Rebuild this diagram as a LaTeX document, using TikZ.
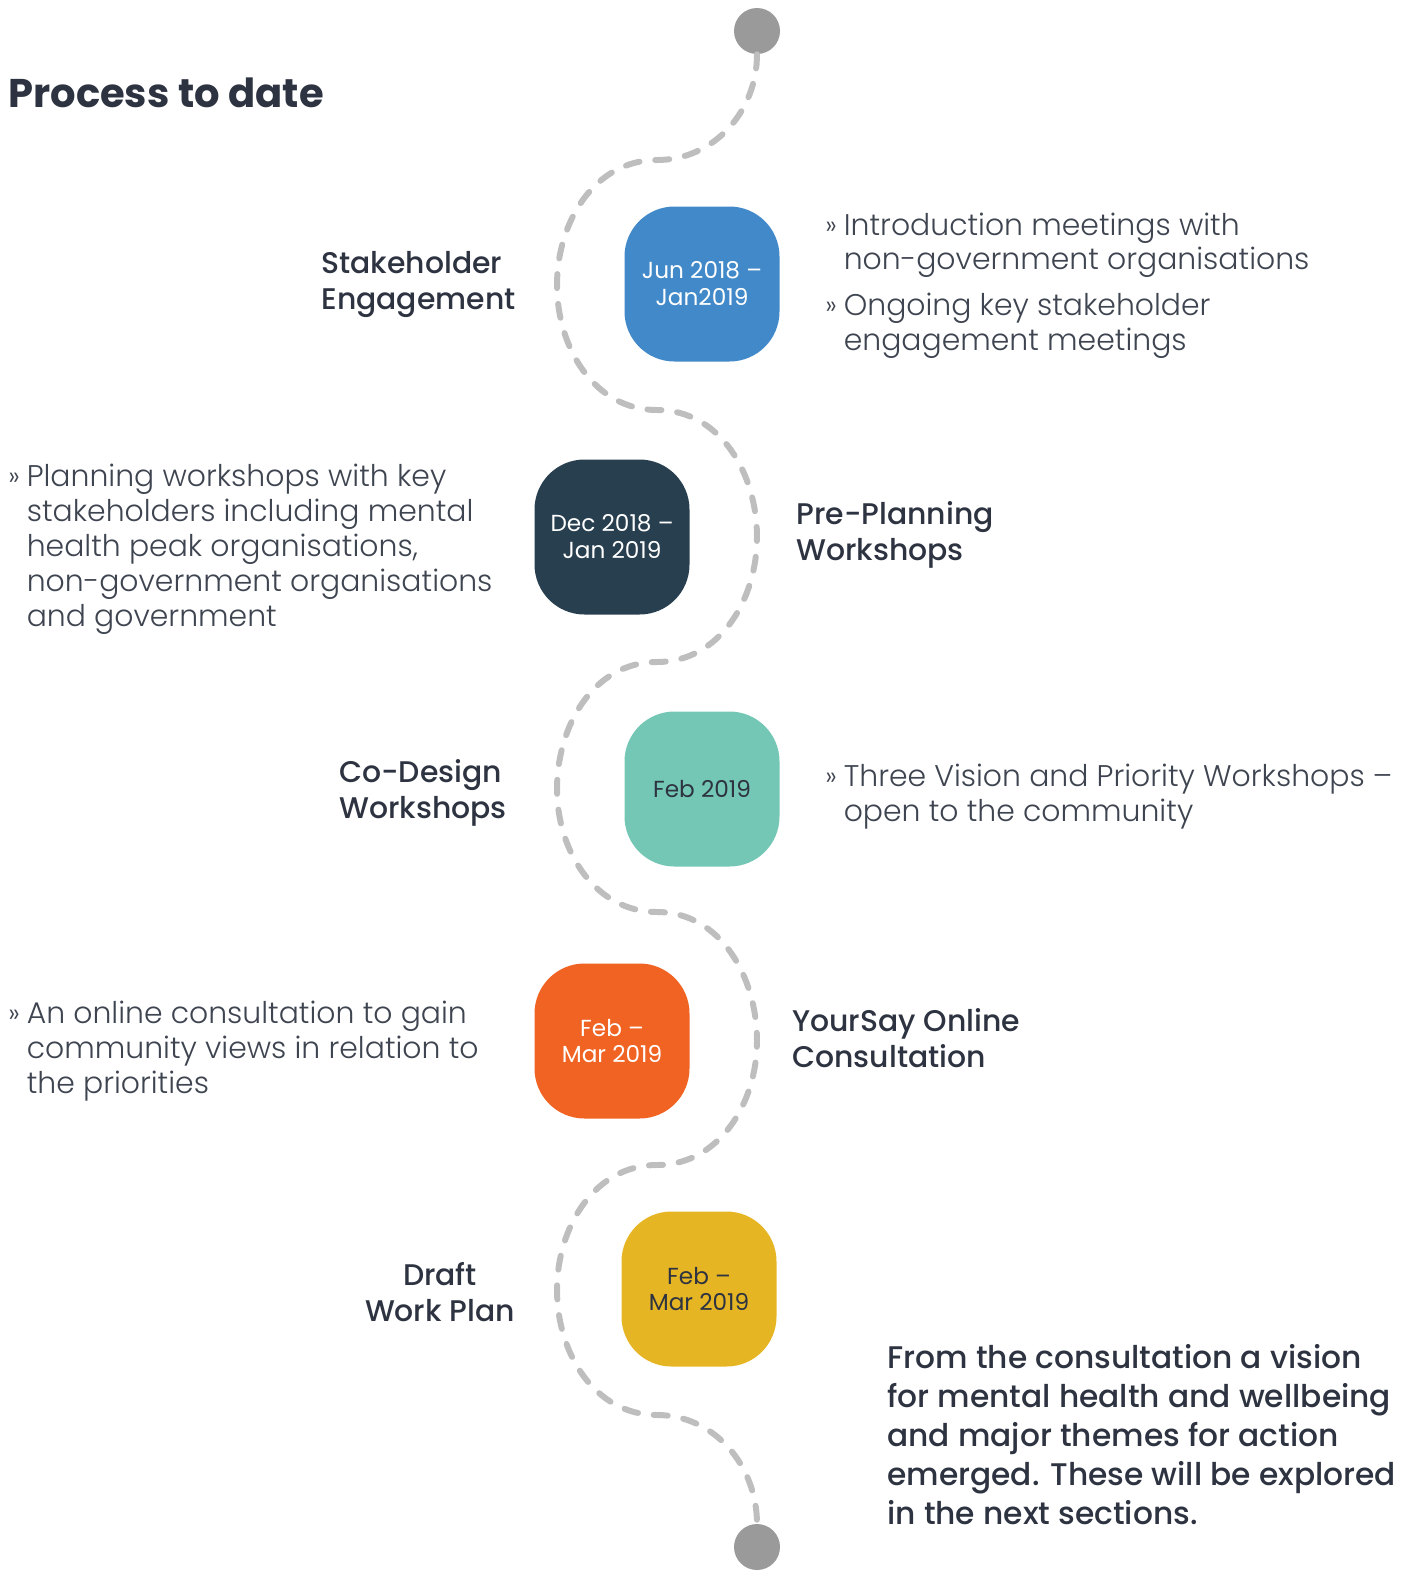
\documentclass[tikz,border=0pt]{standalone}
\usepackage{fontspec}
\setmainfont{Poppins}
\newfontfamily\lightfont{Poppins Light}
\newfontfamily\medfont{Poppins Medium}

\definecolor{inkdark}{RGB}{45,51,64}
\definecolor{inklight}{RGB}{62,68,80}
\definecolor{stepblue}{RGB}{65,137,200}
\definecolor{stepnavy}{RGB}{40,63,80}
\definecolor{stepteal}{RGB}{116,199,181}
\definecolor{steporange}{RGB}{240,99,34}
\definecolor{stepgold}{RGB}{230,181,36}
\definecolor{wavegray}{RGB}{190,190,190}
\definecolor{dotgray}{RGB}{154,154,154}

\newcommand{\bmark}{\makebox[10.5pt][l]{\fontsize{15}{15}\selectfont\raisebox{0.5pt}{»}}}
\newcommand{\bgap}{\hspace*{10.5pt}}

\begin{document}
\begin{tikzpicture}
		[x=0.2mm, y=0.2mm,
		datebox/.style={rectangle, rounded corners=1cm, minimum size=3.1cm,
			inner sep=0pt, align=center, font=\fontsize{13.2}{15.3}\selectfont},
		heading/.style={anchor=base west, inner sep=0pt, align=left, text=inkdark,
			font=\medfont\fontsize{17}{20.4}\selectfont},
		bullets/.style={anchor=base west, inner sep=0pt, align=left, text=inklight,
			font=\lightfont\fontsize{17}{19.8}\selectfont},
		waydot/.style={circle, fill=dotgray, minimum size=0.92cm, inner sep=0pt},
		wave/.style={draw=wavegray, line width=3.4pt, line cap=round,
			dash pattern=on 8pt off 9pt},
		]
		\useasboundingbox (0,0) rectangle (1413,-1575);
		
		\node[anchor=base west, inner sep=0pt, text=inkdark,
			font=\bfseries\fontsize{22.8}{26}\selectfont] (title) at (8,-107) {Process to date};
		
		% the winding path
		\node[waydot] (top) at (757,-31) {};
		\node[waydot] (bottom) at (757,-1547) {};
		\coordinate (c1) at (657,-160);
		\coordinate (l1) at (557,-285);
		\coordinate (c2) at (657,-410);
		\coordinate (r1) at (757,-537);
		\coordinate (c3) at (657,-662);
		\coordinate (l2) at (557,-789);
		\coordinate (c4) at (657,-912);
		\coordinate (r2) at (757,-1041);
		\coordinate (c5) at (657,-1165);
		\coordinate (l3) at (557,-1290);
		\coordinate (c6) at (657,-1415);
		\draw[wave] (top.south) to[out=-90,in=0] (c1) to[out=180,in=90] (l1)
			to[out=-90,in=180] (c2) to[out=0,in=90] (r1)
			to[out=-90,in=0] (c3) to[out=180,in=90] (l2)
			to[out=-90,in=180] (c4) to[out=0,in=90] (r2)
			to[out=-90,in=0] (c5) to[out=180,in=90] (l3)
			to[out=-90,in=180] (c6) to[out=0,in=90] (bottom.north);
		
		% date boxes
		\node[datebox, fill=stepblue, text=white] (A) at (702,-284) {Jun 2018 –\\Jan2019};
		\node[datebox, fill=stepnavy, text=white] (B) at (612,-537) {Dec 2018 –\\Jan 2019};
		\node[datebox, fill=stepteal, text=inkdark] (C) at (702,-789) {Feb 2019};
		\node[datebox, fill=steporange, text=white] (D) at (612,-1041) {Feb –\\Mar 2019};
		\node[datebox, fill=stepgold, text=inkdark] (E) at (699,-1289) {Feb –\\Mar 2019};
		
		% stage names (base = last line)
		\node[heading] (A1) at (321,-309) {Stakeholder\\Engagement};
		\node[heading] (B1) at (796,-560) {Pre-Planning\\Workshops};
		\node[heading] (C1) at (339,-818) {Co-Design\\Workshops};
		\node[heading] (D1) at (792,-1067) {YourSay Online\\Consultation};
		\node[heading, anchor=base, align=center] (E1) at (440,-1321) {Draft\\Work Plan};
		
		% what happened
		\node[bullets] (A2) at (825,-350) {\bmark Introduction meetings with\\
			\bgap non-government organisations\\[6pt]
			\bmark Ongoing key stakeholder\\
			\bgap engagement meetings};
		\node[bullets] (B2) at (8,-626) {\bmark Planning workshops with key\\
			\bgap stakeholders including mental\\
			\bgap health peak organisations,\\
			\bgap non-government organisations\\
			\bgap and government};
		\node[bullets] (C2) at (825,-821) {\bmark Three Vision and Priority Workshops –\\
			\bgap open to the community};
		\node[bullets] (D2) at (8,-1093) {\bmark An online consultation to gain\\
			\bgap community views in relation to\\
			\bgap the priorities};
		
		\node[anchor=base west, inner sep=0pt, align=left, text=inkdark,
			font=\medfont\fontsize{17.8}{22.1}\selectfont] (E2) at (887,-1524)
			{From the consultation a vision\\for mental health and wellbeing\\
			and major themes for action\\emerged. These will be explored\\
			in the next sections.};
		
	\end{tikzpicture}
\end{document}
